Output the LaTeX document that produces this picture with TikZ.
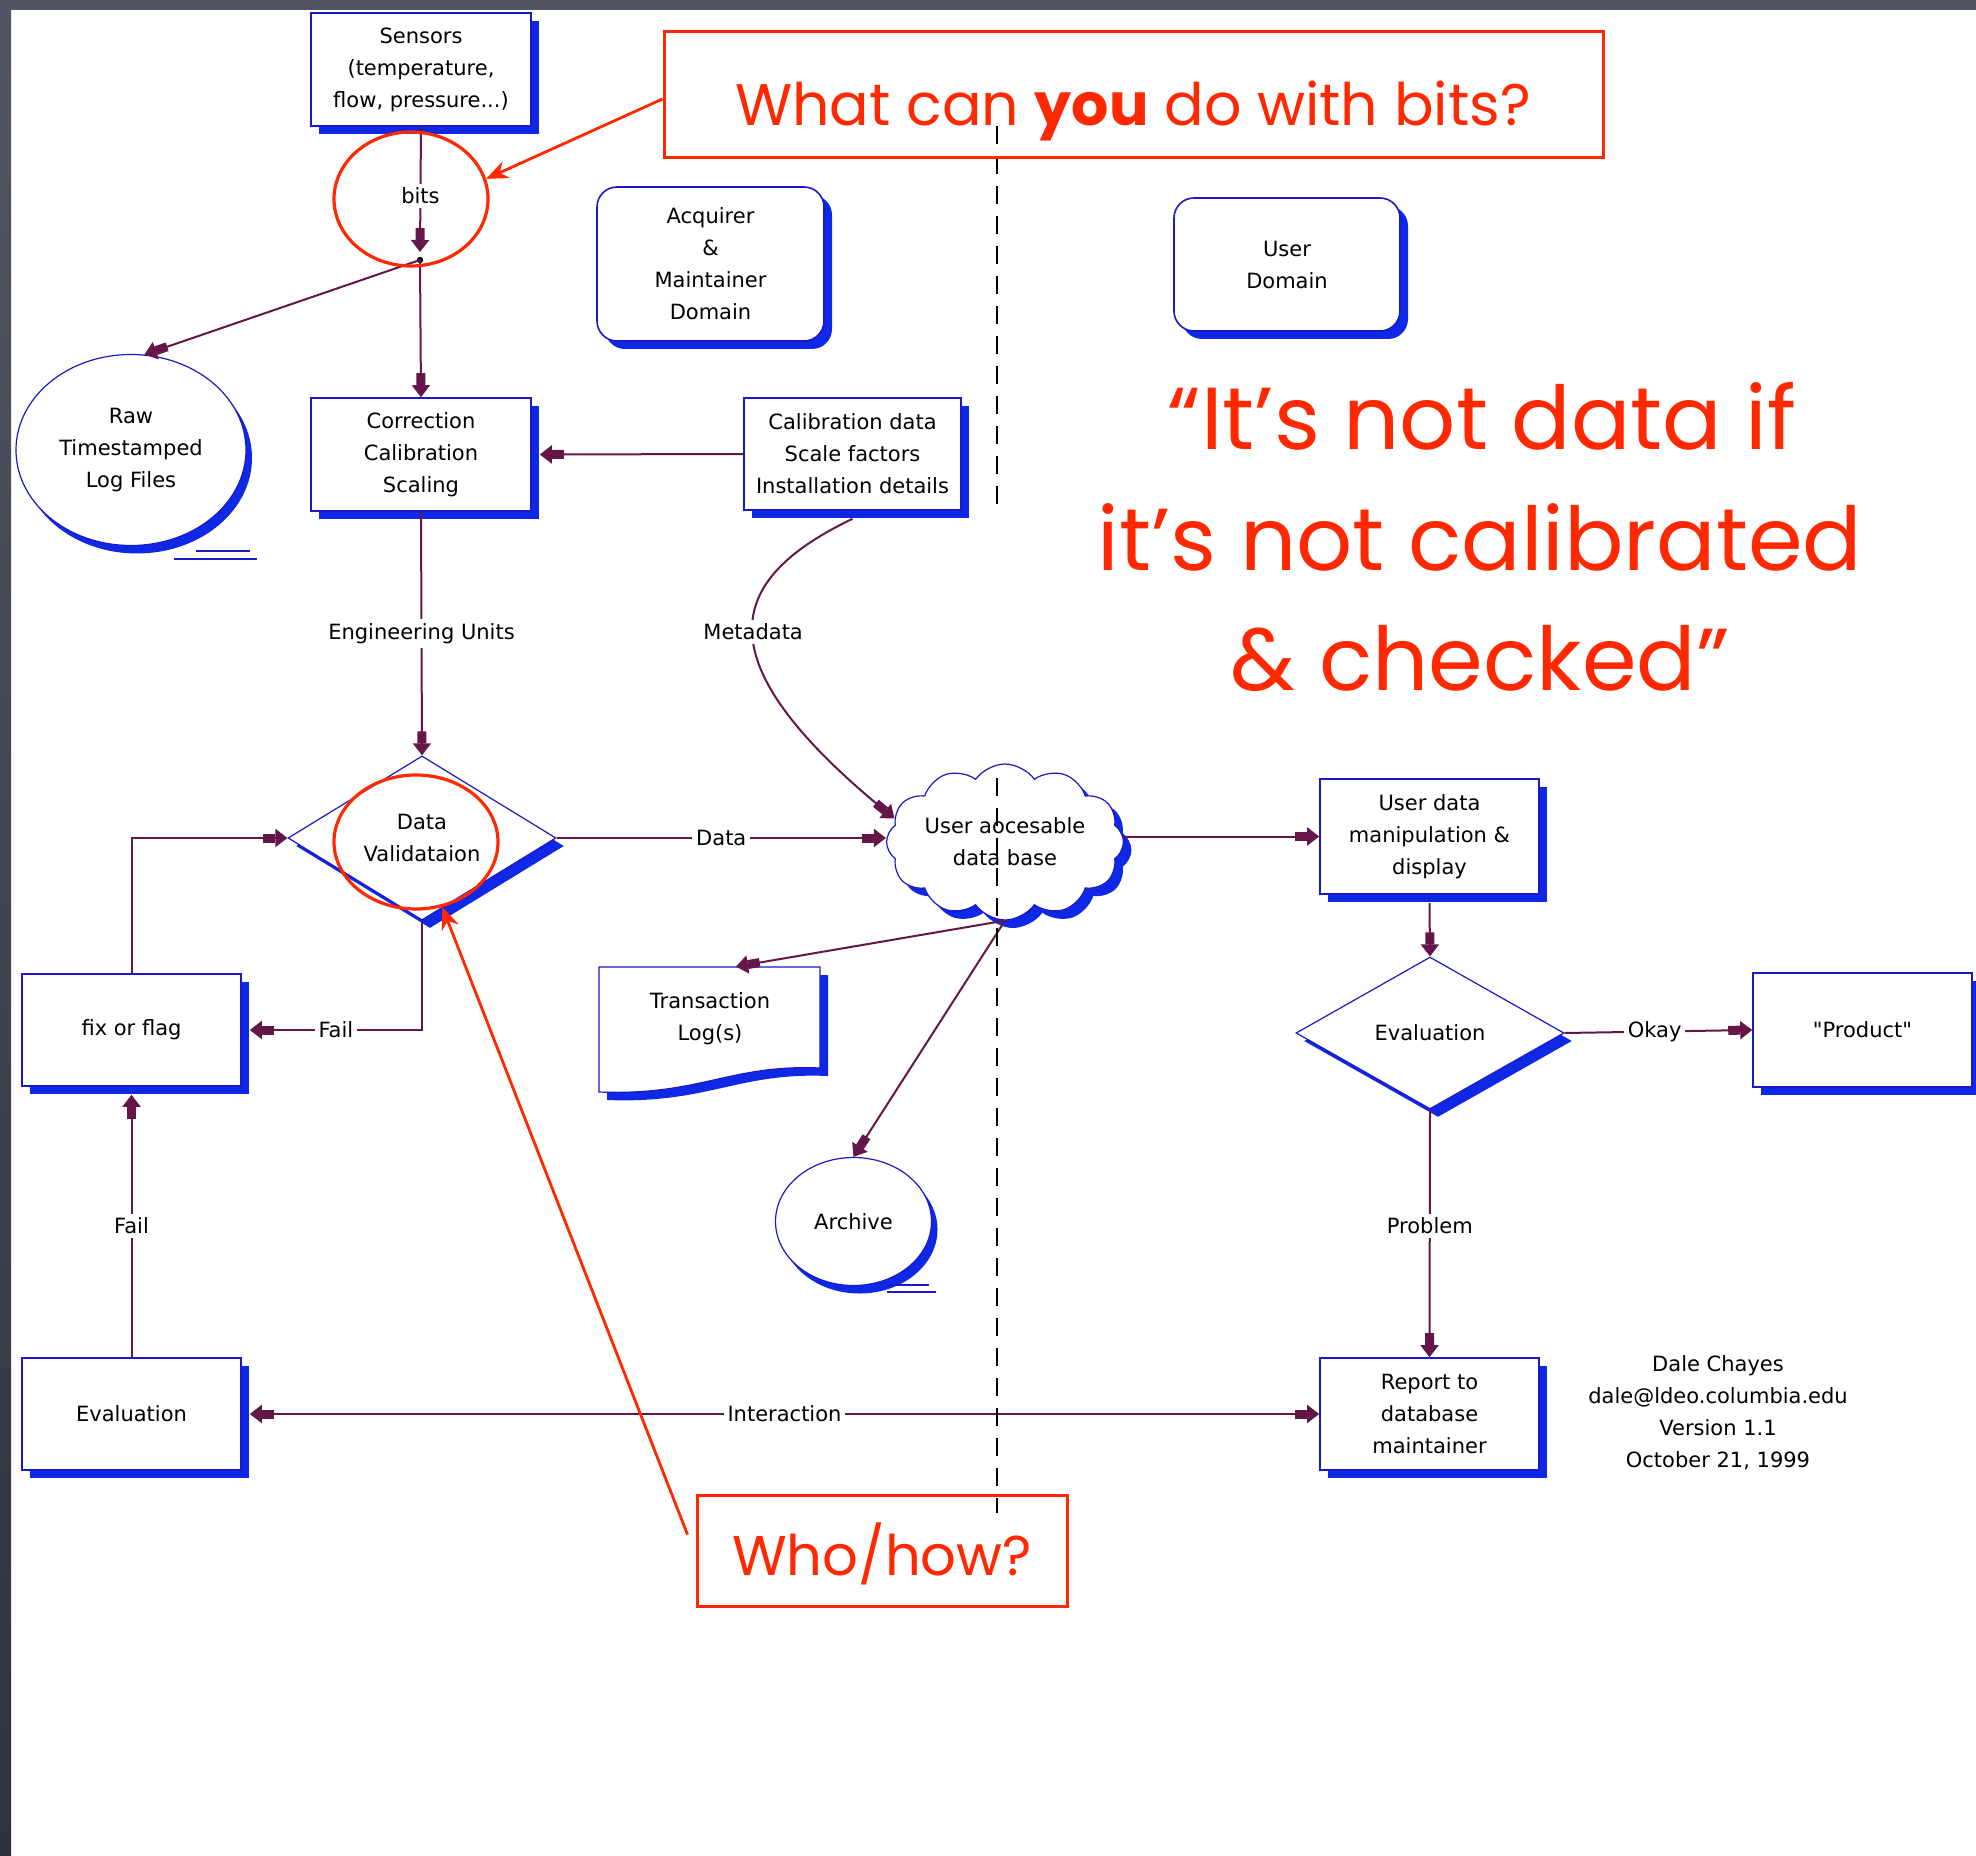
\documentclass[tikz,border=0pt]{standalone}
\usepackage{fontspec}
\setmainfont{DejaVu Sans}
\newfontfamily\comicfont{Poppins}
\usetikzlibrary{arrows.meta,shapes.geometric,shapes.symbols,shadows}
\definecolor{connc}{RGB}{100,22,72}
\definecolor{boxblue}{RGB}{25,25,200}
\definecolor{shblue}{RGB}{15,40,230}
\definecolor{annred}{RGB}{255,40,0}
\definecolor{framegray}{RGB}{82,86,100}
\definecolor{framedark}{RGB}{44,50,64}
\tikzset{
  conn/.style={draw=connc, line width=1pt},
  arr/.style={conn, -{Rectangle[length=6pt,width=4.5pt]Triangle[length=6pt,width=9pt]}},
  arrboth/.style={conn, {Triangle[length=6pt,width=9pt]Rectangle[length=6pt,width=4.5pt]}-{Rectangle[length=6pt,width=4.5pt]Triangle[length=6pt,width=9pt]}},
  lbl/.style={fill=white, inner sep=2pt},
  bshadow/.style={general shadow={fill=shblue, shadow xshift=4pt, shadow yshift=-4pt}},
  box/.style={rectangle, draw=boxblue, line width=0.8pt, fill=white, align=center, inner sep=2pt, bshadow},
  rbox/.style={box, rounded corners=10pt},
  dia/.style={diamond, draw=boxblue, line width=0.6pt, fill=white, align=center, inner sep=0pt, minimum width=134pt, minimum height=76pt, bshadow},
  store/.style={ellipse, draw=boxblue, line width=0.6pt, fill=white, align=center, inner sep=0pt, general shadow={fill=shblue, shadow xshift=3pt, shadow yshift=-4pt}},
  storetail/.style={draw=boxblue, line width=0.8pt},
  divider/.style={draw=black, line width=1pt, dash pattern=on 9pt off 6pt},
  redbox/.style={draw=annred, line width=1.5pt, inner sep=0pt},
  redring/.style={ellipse, draw=annred, line width=1.6pt, inner sep=0pt},
  redarrow/.style={draw=annred, line width=1.4pt, -{Stealth[length=11pt,width=9pt]}},
  ann/.style={text=annred, anchor=base, inner sep=0pt},
  quoteline/.style={text=annred, font=\comicfont\fontsize{44}{60}\selectfont, anchor=base, inner sep=0pt},
}
\begin{document}
\begin{tikzpicture}[x=0.5pt,y=-0.5pt, font=\fontsize{10.5}{16}\selectfont]
\useasboundingbox (0,0) rectangle (1976,1856);
\fill[white] (0,0) rectangle (1976,1856);
\fill[framegray] (0,0) rectangle (1976,10);
\shade[top color=framegray, bottom color=framedark] (0,0) rectangle (11,1856);

% nodes
\node[box, minimum width=110pt, minimum height=56.5pt] (sensors) at (421,69.5) {Sensors\\(temperature,\\flow, pressure...)};
\node[box, minimum width=110pt, minimum height=56.5pt] (corr) at (421,454.5) {Correction\\Calibration\\Scaling};
\node[box, minimum width=108.5pt, minimum height=56pt] (calib) at (852.5,454) {Calibration data\\Scale factors\\Installation details};
\node[rbox, minimum width=113.5pt, minimum height=77pt] (acq) at (710.5,264) {Acquirer\\\&\\Maintainer\\Domain};
\node[rbox, minimum width=113pt, minimum height=66.5pt] (udom) at (1287,264.5) {User\\Domain};
\node[store, minimum width=115pt, minimum height=95.5pt] (raw) at (131,450) {Raw\\Timestamped\\Log Files};
\draw[storetail] (196,551) -- (250,551);
\draw[storetail] (174,559) -- (257,559);
\node[dia] (dv) at (422,838) {Data\\Validataion};
\node[box, minimum width=109.5pt, minimum height=56pt] (fix) at (131.5,1030) {fix or flag};
\node[box, minimum width=109.5pt, minimum height=56pt] (evl) at (131.5,1414) {Evaluation};
\node[cloud, cloud puffs=12, cloud puff arc=110, aspect=1.75, draw=boxblue, line width=0.6pt, fill=white, align=center, inner sep=0pt, minimum width=118pt, minimum height=66pt, bshadow] (cloud) at (1005,842) {User aocesable\\data base};
% transaction log document shape
\fill[shblue] (607,975) -- (828,975) -- (828,1076) .. controls (738,1072) and (708,1104) .. (607,1100) -- cycle;
\filldraw[fill=white, draw=boxblue, line width=0.6pt] (599,967) -- (820,967) -- (820,1068) .. controls (730,1064) and (700,1096) .. (599,1092) -- cycle;
\node[align=center, minimum width=110.5pt, minimum height=52pt, inner sep=0pt] (trans) at (710,1019) {Transaction\\Log(s)};
\node[store, minimum width=78pt, minimum height=64pt] (arch) at (853.5,1221.5) {Archive};
\draw[storetail] (887,1285) -- (929,1285);
\draw[storetail] (887,1292) -- (936,1292);
\node[box, minimum width=109.5pt, minimum height=57.5pt] (ud) at (1429.5,836.5) {User data\\manipulation \&\\display};
\node[dia] (evr) at (1430,1033) {Evaluation};
\node[box, minimum width=109.5pt, minimum height=57pt] (prod) at (1862.5,1030) {\textquotedbl Product\textquotedbl};
\node[box, minimum width=109.5pt, minimum height=56pt] (rep) at (1429.5,1414) {Report to\\database\\maintainer};
\node[align=center, inner sep=0pt] (credit) at (1718,1413) {Dale Chayes\\dale@ldeo.columbia.edu\\Version 1.1\\October 21, 1999};

% connectors
\coordinate (J) at (420,260);
\draw[arr] (sensors.south) -- node[lbl,pos=0.55]{bits} ([yshift=4pt]J);
\fill[black] (J) circle (1.6pt);
\draw[arr] (J) -- (raw.82);
\draw[arr] (J) -- (corr.north);
\draw[arr] (calib.west) -- ([xshift=4pt]corr.east);
\draw[arr] (corr.south) -- node[lbl]{Engineering Units} (dv.north);
\draw[arr] ([yshift=-4pt]calib.south) .. controls (725,580) and (701,660) .. node[lbl]{Metadata} (cloud.168);
\draw[arr] (dv.east) -- node[lbl]{Data} (dv.east -| cloud.west);
\draw[arr] (ud.west -| cloud.east) -- (ud.west);
\draw[arr] (cloud.south) -- ([xshift=13pt]trans.north);
\draw[arr] (cloud.south) -- (arch.north);
\draw[arr] (dv.south) |- node[lbl,pos=0.75]{Fail} ([xshift=4pt]fix.east);
\draw[arr] (fix.north) |- (dv.west);
\draw[arr] (evl.north) -- node[lbl]{Fail} ([yshift=-4pt]fix.south);
\draw[arrboth] ([xshift=4pt]evl.east) -- node[lbl]{Interaction} (rep.west);
\draw[arr] ([yshift=-4pt]ud.south) -- (evr.north);
\draw[arr] (evr.east) -- node[lbl,pos=0.48]{Okay} (prod.west);
\draw[arr] (evr.south) -- node[lbl,pos=0.47]{Problem} (rep.north);

% divider
\draw[divider] (997,126) -- (997,504);
\draw[divider] (997,778) -- (997,1513);

% red annotations
\node[redbox, minimum width=469.5pt, minimum height=63pt] (askbox) at (1133.5,95) {};
\node[ann, font=\comicfont\fontsize{29.3}{34}\selectfont] (asktext) at (1133,126) {What can {\bfseries you} do with bits?};
\node[redring, minimum width=77pt, minimum height=67pt] (ring1) at (411,199) {};
\draw[redarrow] ([yshift=-2pt]askbox.west) -- (ring1.15);
\node[redring, minimum width=82pt, minimum height=67pt] (ring2) at (416,842) {};
\node[redbox, minimum width=185pt, minimum height=55.5pt] (whobox) at (882,1550.5) {};
\node[ann, font=\comicfont\fontsize{28}{33}\selectfont] (whotext) at (882,1575) {Who/how?};
\draw[redarrow] ([xshift=-4pt,yshift=8pt]whobox.west) -- (ring2.-68);
\node[quoteline] (qa) at (1482,450) {“It’s not data if};
\node[quoteline] (qb) at (1480,570) {it’s not calibrated};
\node[quoteline] (qc) at (1480,690) {\& checked”};
\end{tikzpicture}
\end{document}
